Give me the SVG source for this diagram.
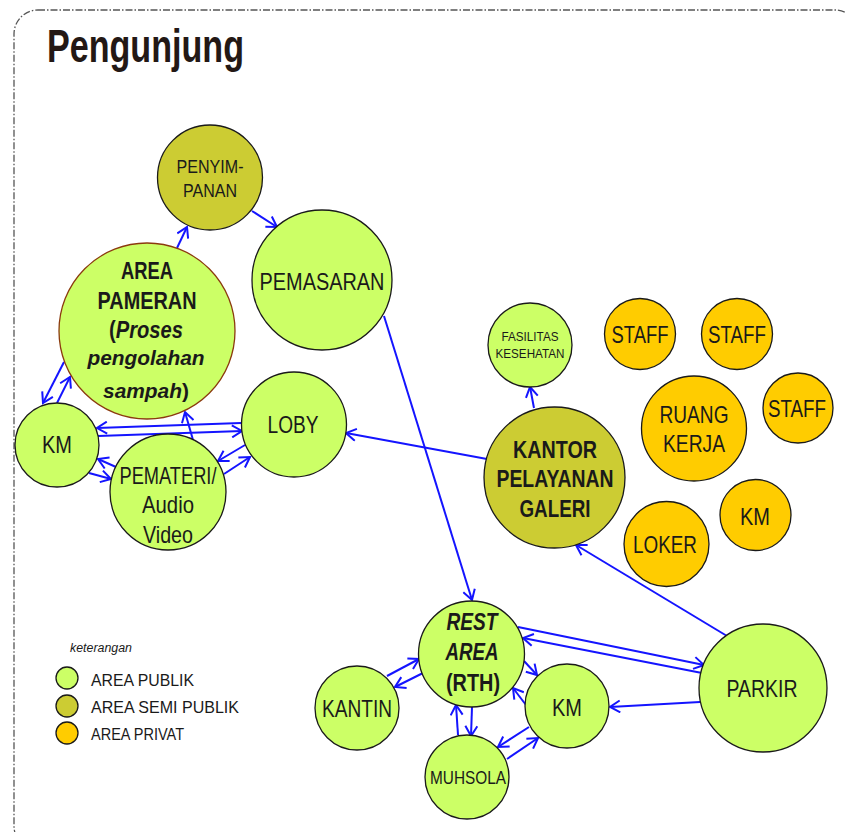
<svg xmlns="http://www.w3.org/2000/svg" width="845" height="832" viewBox="0 0 845 832">
  <style>
    .pub { fill: #ccff66; stroke: #1a1a1a; stroke-width: 1.3; }
    .semi { fill: #cccc33; stroke: #1a1a1a; stroke-width: 1.3; }
    .priv { fill: #ffcc00; stroke: #1a1a1a; stroke-width: 1.3; }
    text { font-family: "Liberation Sans Narrow", "Liberation Sans", Arial, sans-serif; fill: #1a1a1a; text-anchor: middle; }
    .b { font-weight: bold; }
    .i { font-style: italic; }
    .lbl { font-size: 24px; }
    .edge { stroke: #1414ff; stroke-width: 2; fill: none; marker-end: url(#arr); }
  </style>
  <defs>
    <marker id="arr" viewBox="-11 -7 13 14" refX="0" refY="0" markerWidth="13" markerHeight="14" markerUnits="userSpaceOnUse" orient="auto">
      <path d="M-10,-6 L0,0 L-10,6" fill="none" stroke="#1414ff" stroke-width="2"/>
    </marker>
  </defs>

  <!-- frame -->
  <rect x="14" y="10" width="845" height="840" rx="24" fill="none" stroke="#555" stroke-width="1.3" stroke-dasharray="7 2 1.5 2"/>

  <text x="47" y="62" class="b" style="font-size:46px;text-anchor:start;fill:#231815" textLength="197" lengthAdjust="spacingAndGlyphs">Pengunjung</text>

  <!-- connectors -->
  <g id="connectors">
    <line class="edge" x1="177" y1="248" x2="187" y2="227"/>
    <line class="edge" x1="252" y1="211" x2="277" y2="227"/>
    <line class="edge" x1="384" y1="316" x2="472" y2="600"/>
    <line class="edge" x1="487" y1="459" x2="346" y2="433"/>
    <line class="edge" x1="534" y1="408" x2="530" y2="387"/>
    <line class="edge" x1="727" y1="636" x2="576" y2="545"/>
    <line class="edge" x1="518" y1="627" x2="704" y2="665"/>
    <line class="edge" x1="702" y1="673" x2="523" y2="638"/>
    <line class="edge" x1="700" y1="702" x2="610" y2="707"/>
    <line class="edge" x1="524" y1="661" x2="537" y2="675"/>
    <line class="edge" x1="526" y1="705" x2="513" y2="688"/>
    <line class="edge" x1="387" y1="676" x2="419" y2="659"/>
    <line class="edge" x1="423" y1="673" x2="395" y2="687"/>
    <line class="edge" x1="458" y1="735" x2="456" y2="705"/>
    <line class="edge" x1="472" y1="707" x2="471" y2="736"/>
    <line class="edge" x1="529" y1="727" x2="498" y2="747"/>
    <line class="edge" x1="507" y1="759" x2="538" y2="738"/>
    <line class="edge" x1="57" y1="403" x2="70" y2="377"/>
    <line class="edge" x1="64" y1="362" x2="43" y2="403"/>
    <line class="edge" x1="241" y1="423" x2="97" y2="428"/>
    <line class="edge" x1="98" y1="436" x2="242" y2="431"/>
    <line class="edge" x1="193" y1="440" x2="185" y2="412"/>
    <line class="edge" x1="116" y1="467" x2="98" y2="459"/>
    <line class="edge" x1="89" y1="473" x2="111" y2="479"/>
    <line class="edge" x1="245" y1="445" x2="218" y2="461"/>
    <line class="edge" x1="224" y1="474" x2="250" y2="457"/>
  </g>

  <!-- nodes -->
  <g id="penyimpanan">
    <circle class="semi" cx="210" cy="177.5" r="52.5"/>
    <text x="210" y="173" style="font-size:19px" textLength="67" lengthAdjust="spacingAndGlyphs">PENYIM-</text>
    <text x="210" y="197" style="font-size:19px" textLength="54" lengthAdjust="spacingAndGlyphs">PANAN</text>
  </g>
  <g id="pemasaran">
    <circle class="pub" cx="322" cy="280" r="70"/>
    <text x="322" y="290" class="lbl" textLength="125" lengthAdjust="spacingAndGlyphs">PEMASARAN</text>
  </g>
  <g id="area-pameran">
    <circle cx="147" cy="331" r="88" fill="#ccff66" stroke="#8b3a0e" stroke-width="1.3"/>
    <text x="147" y="279" class="lbl b" textLength="52" lengthAdjust="spacingAndGlyphs">AREA</text>
    <text x="147" y="309" class="lbl b" textLength="99" lengthAdjust="spacingAndGlyphs">PAMERAN</text>
    <text x="146" y="338" class="lbl b" textLength="74" lengthAdjust="spacingAndGlyphs">(<tspan class="i">Proses</tspan></text>
    <text x="146" y="365" class="b i" style="font-size:21px" textLength="117" lengthAdjust="spacingAndGlyphs">pengolahan</text>
    <text x="146" y="398" class="b" style="font-size:21px" textLength="86" lengthAdjust="spacingAndGlyphs"><tspan class="i">sampah</tspan>)</text>
  </g>
  <g id="loby">
    <circle class="pub" cx="294" cy="424.5" r="52.5"/>
    <text x="293" y="433" class="lbl" textLength="51" lengthAdjust="spacingAndGlyphs">LOBY</text>
  </g>
  <g id="km-1">
    <circle class="pub" cx="57" cy="445" r="42"/>
    <text x="57" y="453" class="lbl" textLength="30" lengthAdjust="spacingAndGlyphs">KM</text>
  </g>
  <g id="pemateri">
    <circle class="pub" cx="168" cy="492" r="58"/>
    <text x="168" y="484" class="lbl" textLength="97" lengthAdjust="spacingAndGlyphs">PEMATERI/</text>
    <text x="168" y="513" class="lbl" textLength="52" lengthAdjust="spacingAndGlyphs">Audio</text>
    <text x="168" y="543" class="lbl" textLength="50" lengthAdjust="spacingAndGlyphs">Video</text>
  </g>
  <g id="fasilitas-kesehatan">
    <circle class="pub" cx="530" cy="345" r="42"/>
    <text x="530" y="341" style="font-size:13px" textLength="57" lengthAdjust="spacingAndGlyphs">FASILITAS</text>
    <text x="530" y="358" style="font-size:13px" textLength="69" lengthAdjust="spacingAndGlyphs">KESEHATAN</text>
  </g>
  <g id="kantor">
    <circle class="semi" cx="554.5" cy="477.5" r="70.5"/>
    <text x="555" y="458" class="lbl b" textLength="84" lengthAdjust="spacingAndGlyphs">KANTOR</text>
    <text x="555" y="487" class="lbl b" textLength="117" lengthAdjust="spacingAndGlyphs">PELAYANAN</text>
    <text x="555" y="517" class="lbl b" textLength="71" lengthAdjust="spacingAndGlyphs">GALERI</text>
  </g>
  <g id="staff-1">
    <circle class="priv" cx="640" cy="334" r="35.5"/>
    <text x="640" y="343" class="lbl" textLength="57" lengthAdjust="spacingAndGlyphs">STAFF</text>
  </g>
  <g id="staff-2">
    <circle class="priv" cx="737" cy="334" r="35.5"/>
    <text x="737" y="343" class="lbl" textLength="58" lengthAdjust="spacingAndGlyphs">STAFF</text>
  </g>
  <g id="staff-3">
    <circle class="priv" cx="798" cy="408" r="35"/>
    <text x="797" y="417" class="lbl" textLength="58" lengthAdjust="spacingAndGlyphs">STAFF</text>
  </g>
  <g id="ruang-kerja">
    <circle class="priv" cx="694" cy="428.5" r="52.5"/>
    <text x="694" y="423" class="lbl" textLength="69" lengthAdjust="spacingAndGlyphs">RUANG</text>
    <text x="694" y="452" class="lbl" textLength="62" lengthAdjust="spacingAndGlyphs">KERJA</text>
  </g>
  <g id="km-2">
    <circle class="priv" cx="755.5" cy="515" r="35.5"/>
    <text x="755" y="525" class="lbl" textLength="30" lengthAdjust="spacingAndGlyphs">KM</text>
  </g>
  <g id="loker">
    <circle class="priv" cx="666.5" cy="544" r="42.5"/>
    <text x="665" y="553" class="lbl" textLength="64" lengthAdjust="spacingAndGlyphs">LOKER</text>
  </g>
  <g id="rest-area">
    <circle class="pub" cx="471.5" cy="654" r="53"/>
    <text x="472" y="630" class="lbl b i" textLength="51" lengthAdjust="spacingAndGlyphs">REST</text>
    <text x="472" y="660" class="lbl b i" textLength="53" lengthAdjust="spacingAndGlyphs">AREA</text>
    <text x="473" y="691" class="lbl b" textLength="54" lengthAdjust="spacingAndGlyphs">(RTH)</text>
  </g>
  <g id="kantin">
    <circle class="pub" cx="357" cy="708" r="42"/>
    <text x="357" y="717" class="lbl" textLength="70" lengthAdjust="spacingAndGlyphs">KANTIN</text>
  </g>
  <g id="km-3">
    <circle class="pub" cx="567" cy="706" r="42"/>
    <text x="567" y="716" class="lbl" textLength="30" lengthAdjust="spacingAndGlyphs">KM</text>
  </g>
  <g id="muhsola">
    <circle class="pub" cx="467" cy="777" r="42"/>
    <text x="468" y="784" style="font-size:19px" textLength="76" lengthAdjust="spacingAndGlyphs">MUHSOLA</text>
  </g>
  <g id="parkir">
    <circle class="pub" cx="763" cy="688" r="64"/>
    <text x="762" y="697" class="lbl" textLength="71" lengthAdjust="spacingAndGlyphs">PARKIR</text>
  </g>

  <!-- legend -->
  <g id="legend">
    <text x="70" y="652" class="i" style="font-size:12px;text-anchor:start" textLength="62" lengthAdjust="spacingAndGlyphs">keterangan</text>
    <circle class="pub" cx="67" cy="678" r="11"/>
    <circle class="semi" cx="67" cy="706" r="11"/>
    <circle class="priv" cx="67" cy="733" r="11"/>
    <text x="91" y="686" style="font-size:17px;text-anchor:start" textLength="103" lengthAdjust="spacingAndGlyphs">AREA PUBLIK</text>
    <text x="91" y="713" style="font-size:17px;text-anchor:start" textLength="148" lengthAdjust="spacingAndGlyphs">AREA SEMI PUBLIK</text>
    <text x="91" y="740" style="font-size:17px;text-anchor:start" textLength="93" lengthAdjust="spacingAndGlyphs">AREA PRIVAT</text>
  </g>
</svg>
